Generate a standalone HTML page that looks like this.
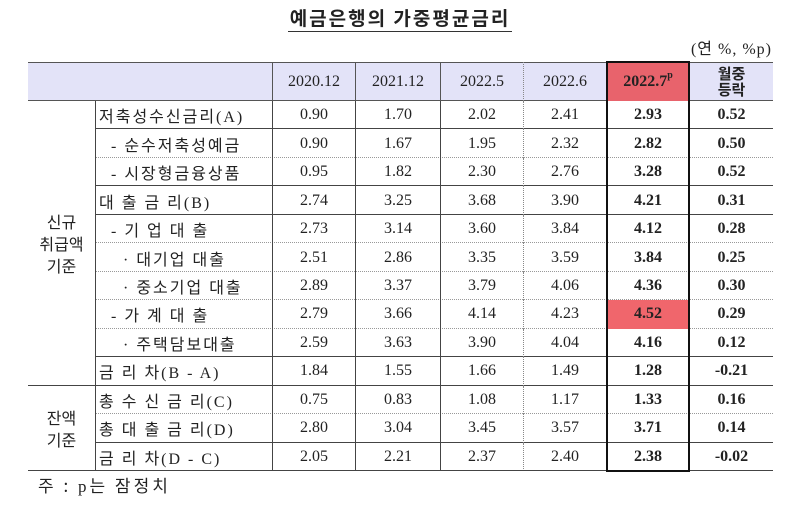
<!DOCTYPE html>
<html><head><meta charset="utf-8">
<style>
body{margin:0;width:800px;height:514px;background:#fff;position:relative;overflow:hidden;font-family:"Liberation Serif","Noto Sans CJK KR",serif;color:#222}
.a{position:absolute;box-sizing:border-box}
.kr{font-family:"Noto Sans CJK KR",sans-serif}
.c{display:flex;align-items:center;justify-content:center;font-size:16px}
.l{display:flex;align-items:center;font-size:16px;font-family:"Liberation Serif","Noto Sans CJK KR",serif;letter-spacing:2px;white-space:nowrap}
.b{font-weight:bold}
</style></head><body>
<div class="a kr b" style="left:0;width:800px;top:4px;text-align:center;font-size:19px;letter-spacing:2px;"><span style="border-bottom:1.5px solid #333;padding:0 2px;">예금은행의 가중평균금리</span></div>
<div class="a" style="right:28px;top:35px;font-size:16px;letter-spacing:1px;font-family:'Liberation Serif','Noto Sans CJK KR',serif;">(연 %, %p)</div>
<div id="tbl"></div>
<div class="a kr" style="left:38px;top:472px;font-size:17px;letter-spacing:3px;">주 : <span style="font-family:'Liberation Serif'">p</span>는 잠정치</div>
<script>
const periods=["2020.12","2021.12","2022.5","2022.6","2022.7","월중 등락"];
const labels=["저축성수신금리(A)","&nbsp;&nbsp;- 순수저축성예금","&nbsp;&nbsp;- 시장형금융상품","대 출 금 리(B)","&nbsp;&nbsp;- 기 업 대 출","&nbsp;&nbsp;&nbsp;&nbsp;· 대기업 대출","&nbsp;&nbsp;&nbsp;&nbsp;· 중소기업 대출","&nbsp;&nbsp;- 가 계 대 출","&nbsp;&nbsp;&nbsp;&nbsp;· 주택담보대출","금 리 차(B - A)","총 수 신 금 리(C)","총 대 출 금 리(D)","금 리 차(D - C)"];
const v2012=["0.90","0.90","0.95","2.74","2.73","2.51","2.89","2.79","2.59","1.84","0.75","2.80","2.05"];
const v2112=["1.70","1.67","1.82","3.25","3.14","2.86","3.37","3.66","3.63","1.55","0.83","3.04","2.21"];
const v2205=["2.02","1.95","2.30","3.68","3.60","3.35","3.79","4.14","3.90","1.66","1.08","3.45","2.37"];
const v2206=["2.41","2.32","2.76","3.90","3.84","3.59","4.06","4.23","4.04","1.49","1.17","3.57","2.40"];
const v2207=["2.93","2.82","3.28","4.21","4.12","3.84","4.36","4.52","4.16","1.28","1.33","3.71","2.38"];
const vchg=["0.52","0.50","0.52","0.31","0.28","0.25","0.30","0.29","0.12","-0.21","0.16","0.14","-0.02"];
const dottedBelow=[false,true,false,false,true,true,true,true,false,false,true,false,false];
const cols=[[272,355],[355,440],[440,523],[523,606],[606,689],[689,773]];
const T=document.getElementById('tbl');
const top0=101,rh=28.46,L=28,R=773;
function mk(st,cls,html){const d=document.createElement('div');d.className='a '+(cls||'');d.style.cssText=st;if(html!==undefined)d.innerHTML=html;T.appendChild(d);return d;}
let h=mk(`left:${L}px;top:62px;width:${R-L}px;height:39px;background:#e3e3f8;border-top:1.5px solid #555;border-bottom:1.5px solid #555;`);

periods.forEach((p,i)=>{const[x0,x1]=cols[i];let html=p,st=`left:${x0}px;top:62px;width:${x1-x0}px;height:39px;border-left:1px ${i==3?'dotted #888':'solid #555'};`;let cls='c';
 if(i==4){html='2022.7<span style="font-size:10px;position:relative;top:-6px">p</span>';st+='background:#e8636c;font-weight:bold;';}
 if(i==5){html='월중<br>등락';cls='c kr b';st+='line-height:16px;text-align:center;font-size:15px;';}
 const d=mk(st,cls,html);});
const series=[v2012,v2112,v2205,v2206,v2207,vchg];
labels.forEach((lb,r)=>{const y=top0+r*rh;
 const line=mk(`left:95px;top:${y}px;width:${R-95}px;height:${rh}px;border-bottom:1px ${dottedBelow[r]?'dotted #999':'solid #444'};`);
 
 const lab=mk(`left:95px;top:${y}px;width:177px;height:${rh}px;padding-left:3px;border-left:1px solid #444;`,'l',lb);
 
 series.forEach((s,i)=>{const[x0,x1]=cols[i];let st=`left:${x0}px;top:${y}px;width:${x1-x0}px;height:${rh}px;border-left:1px ${i==3?'dotted #888':'solid #444'};`;
  if(i>=4)st+='font-weight:bold;';
  if(i==4&&r==7)st+='background:#f0666c;';
  const d=mk(st,'c',s[r]);});
});
const bot=top0+13*rh;
mk(`left:${L}px;top:${top0+10*rh-1}px;width:67px;height:1px;background:#444;`);
mk(`left:${L}px;top:${bot-1}px;width:${R-L}px;height:1.5px;background:#444;`);
let g1=mk(`left:${L}px;top:${top0}px;width:67px;height:${10*rh}px;text-align:center;line-height:22px;font-size:16px;`,'c kr','신규<br>취급액<br>기준');

let g2=mk(`left:${L}px;top:${top0+10*rh}px;width:67px;height:${3*rh}px;text-align:center;line-height:22px;font-size:16px;`,'c kr','잔액<br>기준');

let hl=mk(`left:606px;top:61px;width:84px;height:${bot-60}px;border:2.5px solid #111;`);

</script>
</body></html>
